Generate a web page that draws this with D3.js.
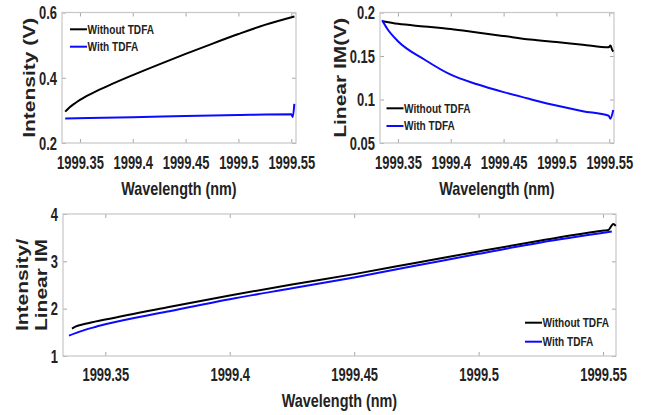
<!DOCTYPE html>
<html><head><meta charset="utf-8">
<script src="https://cdn.jsdelivr.net/npm/d3@7"></script>
<style>body{margin:0;background:#fff}svg{display:block}text{font-family:"Liberation Sans",Arial,sans-serif;font-weight:bold;fill:#222}</style>
</head><body><svg id="c" width="647" height="415"></svg>
<script>
// ---- data ----
const seriesNames = ["Without TDFA", "With TDFA"];
const xTicks = [1999.35, 1999.4, 1999.45, 1999.5, 1999.55];
const xTickLabels = ["1999.35", "1999.4", "1999.45", "1999.5", "1999.55"];

// Panel 1: Intensity (V)
const intWithoutX = [1999.336, 1999.34, 1999.345, 1999.35, 1999.36, 1999.375, 1999.4, 1999.425, 1999.45, 1999.475, 1999.5, 1999.525, 1999.553];
const intWithoutY = [0.296, 0.309, 0.321, 0.332, 0.350, 0.373, 0.408, 0.441, 0.473, 0.504, 0.534, 0.562, 0.588];
const intWithX = [1999.336, 1999.4, 1999.45, 1999.5, 1999.5501, 1999.5515, 1999.5529];
const intWithY = [0.275, 0.279, 0.283, 0.286, 0.288, 0.280, 0.320];
const intYTicks = [0.2, 0.4, 0.6];
const intYTickLabels = ["0.2", "0.4", "0.6"];

// Panel 2: Linear IM (V)
const imWithoutX = [1999.335, 1999.35, 1999.375, 1999.4, 1999.425, 1999.45, 1999.475, 1999.5, 1999.525, 1999.5495, 1999.5512, 1999.5528, 1999.5538];
const imWithoutY = [0.190, 0.187, 0.184, 0.181, 0.177, 0.173, 0.169, 0.166, 0.163, 0.160, 0.162, 0.157, 0.155];
const imWithX = [1999.335, 1999.34, 1999.35, 1999.375, 1999.4, 1999.425, 1999.45, 1999.475, 1999.5, 1999.525, 1999.5495, 1999.551, 1999.5538];
const imWithY = [0.191, 0.181, 0.167, 0.146, 0.1285, 0.1175, 0.1085, 0.1005, 0.093, 0.0866, 0.0814, 0.078, 0.088];
const imYTicks = [0.05, 0.1, 0.15, 0.2];
const imYTickLabels = ["0.05", "0.1", "0.15", "0.2"];

// Panel 3: Intensity / Linear IM
const ratioWithoutX = [1999.3366, 1999.338, 1999.342, 1999.35, 1999.375, 1999.4, 1999.425, 1999.45, 1999.475, 1999.5, 1999.525, 1999.5505, 1999.5521, 1999.5541, 1999.5551];
const ratioWithoutY = [1.58, 1.62, 1.68, 1.77, 2.03, 2.28, 2.51, 2.73, 2.97, 3.21, 3.44, 3.65, 3.66, 3.79, 3.75];
const ratioWithX = [1999.3354, 1999.34, 1999.345, 1999.35, 1999.375, 1999.4, 1999.425, 1999.45, 1999.475, 1999.5, 1999.525, 1999.5535];
const ratioWithY = [1.43, 1.52, 1.60, 1.67, 1.94, 2.20, 2.43, 2.66, 2.91, 3.16, 3.40, 3.63];
const ratioYTicks = [1, 2, 3, 4];
const ratioYTickLabels = ["1", "2", "3", "4"];

const colors = ["#000000", "#0a0aff"];

// ---- drawing ----
const svg = d3.select("#c");
svg.append("rect").attr("width", 647).attr("height", 415).attr("fill", "#fff");

function panel(cfg) {
  const x = d3.scaleLinear().domain(cfg.xDomain).range(cfg.xRange);
  const y = d3.scaleLinear().domain(cfg.yDomain).range(cfg.yRange);
  const g = svg.append("g");
  const [x0, x1] = cfg.xRange, [y0, y1] = cfg.yRange; // y0 bottom, y1 top
  const tk = 4, tickCol = "#a8a8a8";
  const ax = [
    d3.axisBottom(x).tickValues(xTicks).tickSize(tk).tickFormat(""),
    d3.axisTop(x).tickValues(xTicks).tickSize(tk).tickFormat(""),
    d3.axisLeft(y).tickValues(cfg.yTicks).tickSize(tk).tickFormat(""),
    d3.axisRight(y).tickValues(cfg.yTicks).tickSize(tk).tickFormat("")
  ];
  g.append("g").attr("transform", `translate(0,${y0})`).call(ax[1]);
  g.append("g").attr("transform", `translate(0,${y1})`).call(ax[0]);
  g.append("g").attr("transform", `translate(${x0},0)`).call(ax[3]);
  g.append("g").attr("transform", `translate(${x1},0)`).call(ax[2]);
  g.selectAll(".domain").remove();
  g.selectAll(".tick line").attr("stroke", tickCol);
  g.append("rect").attr("x", x0).attr("y", y1).attr("width", x1 - x0).attr("height", y0 - y1)
    .attr("fill", "none").attr("stroke", "#c6c6c6").attr("stroke-width", 1.2);
  const xl = g.append("g").attr("transform", `translate(0,${y0})`)
    .call(d3.axisBottom(x).tickValues(xTicks).tickSize(0).tickFormat((d, i) => xTickLabels[i]));
  xl.select(".domain").remove();
  xl.selectAll("text").attr("y", cfg.xLabOff).attr("dy", 0).attr("font-size", 17.5)
    .attr("fill", "#222").attr("transform", "scale(0.74,1)")
    .attr("font-family", '"Liberation Sans",Arial,sans-serif');
  const yl = g.append("g").attr("transform", `translate(${x0},0)`)
    .call(d3.axisLeft(y).tickValues(cfg.yTicks).tickSize(0).tickFormat((d, i) => cfg.yTickLabels[i]));
  yl.select(".domain").remove();
  yl.selectAll("text").attr("x", 0).attr("dy", 0).attr("y", 6.3).attr("font-size", 17.5)
    .attr("fill", "#222").attr("text-anchor", "end")
    .attr("transform", "translate(-5,0) scale(0.74,1)")
    .attr("font-family", '"Liberation Sans",Arial,sans-serif');
  const line = d3.line().x(d => x(d[0])).y(d => y(d[1])).curve(d3.curveMonotoneX);
  cfg.series.forEach((s, i) => {
    const pts = s.xs.map((v, k) => [v, s.ys[k]]);
    g.append("path").attr("d", line(pts)).attr("fill", "none")
      .attr("stroke", colors[i]).attr("stroke-width", 2).attr("stroke-linejoin", "round");
  });
  g.append("text").attr("transform", `translate(${(x0 + x1) / 2},${cfg.xTitleY}) scale(0.8,1)`)
    .attr("text-anchor", "middle").attr("font-size", 18).text("Wavelength (nm)");
  cfg.yTitle.forEach((t, i) => {
    g.append("text")
      .attr("transform", `translate(${cfg.yTitleX[i]},${(y0 + y1) / 2}) rotate(-90) scale(1,0.76)`)
      .attr("text-anchor", "middle").attr("font-size", 21).text(t);
  });
  seriesNames.forEach((n, i) => {
    const ly = cfg.legY[i];
    g.append("line").attr("x1", cfg.legX).attr("x2", cfg.legX + 17).attr("y1", ly).attr("y2", ly)
      .attr("stroke", colors[i]).attr("stroke-width", 2);
    g.append("text").attr("transform", `translate(${cfg.legX + 17.5},${ly + 4.3}) scale(0.84,1)`)
      .attr("font-size", 12).attr("fill", "#111").text(n);
  });
}

panel({
  xDomain: [1999.333, 1999.5545], xRange: [62, 296],
  yDomain: [0.2, 0.6], yRange: [143, 12.5],
  yTicks: intYTicks, yTickLabels: intYTickLabels,
  series: [{xs: intWithoutX, ys: intWithoutY}, {xs: intWithX, ys: intWithY}],
  xLabOff: 26, xTitleY: 194.5, yTitle: ["Intensity (V)"], yTitleX: [34.5],
  legX: 70, legY: [29.3, 46.7]
});
panel({
  xDomain: [1999.333, 1999.5545], xRange: [380, 614],
  yDomain: [0.05, 0.2], yRange: [143, 12.5],
  yTicks: imYTicks, yTickLabels: imYTickLabels,
  series: [{xs: imWithoutX, ys: imWithoutY}, {xs: imWithX, ys: imWithY}],
  xLabOff: 26, xTitleY: 194.5, yTitle: ["Linear IM(V)"], yTitleX: [346],
  legX: 386.5, legY: [108.3, 126]
});
panel({
  xDomain: [1999.333, 1999.5552], xRange: [63, 616],
  yDomain: [1, 4], yRange: [356, 214],
  yTicks: ratioYTicks, yTickLabels: ratioYTickLabels,
  series: [{xs: ratioWithoutX, ys: ratioWithoutY}, {xs: ratioWithX, ys: ratioWithY}],
  xLabOff: 25.5, xTitleY: 407, yTitle: ["Intensity/", "Linear IM"], yTitleX: [28, 46.5],
  legX: 525, legY: [322.7, 341.7]
});
</script></body></html>
